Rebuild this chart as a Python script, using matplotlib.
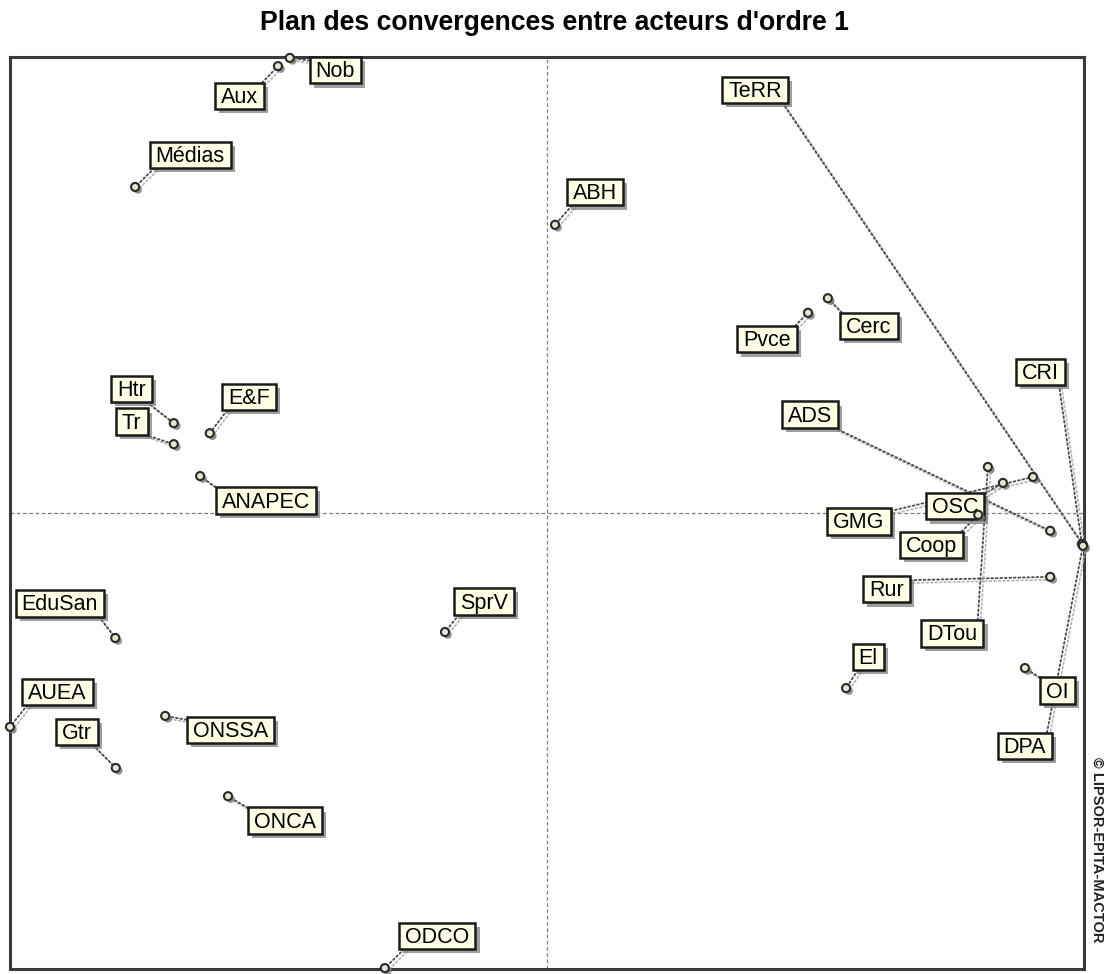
import matplotlib
matplotlib.use("Agg")
import matplotlib.pyplot as plt
import matplotlib.patheffects as pe
from matplotlib.path import Path
import numpy as np

# ---------------- data (positions on the convergence plane) ----------------
actors = ["Nob", "Aux", "Médias", "ABH", "TeRR", "Pvce", "Cerc", "CRI", "ADS",
          "GMG", "OSC", "Coop", "Rur", "DTou", "OI", "DPA", "El", "SprV",
          "EduSan", "AUEA", "Gtr", "ONSSA", "ONCA", "ODCO", "Htr", "Tr",
          "E&F", "ANAPEC"]
x_vals = [-0.479, -0.501, -0.767, 0.015, 0.998, 0.486, 0.523, 0.996, 0.937,
          0.905, 0.849, 0.803, 0.937, 0.821, 0.890, 0.998, 0.557, -0.190,
          -0.804, -1.000, -0.803, -0.711, -0.594, -0.302, -0.695, -0.695,
          -0.628, -0.646]
y_vals = [0.998, 0.980, 0.715, 0.632, -0.070, 0.439, 0.471, -0.068, -0.039,
          0.079, 0.066, -0.004, -0.140, 0.101, -0.340, -0.072, -0.384, -0.261,
          -0.274, -0.469, -0.559, -0.445, -0.621, -0.998, 0.197, 0.151,
          0.175, 0.081]

title = "Plan des convergences entre acteurs d'ordre 1"
credit = "© LIPSOR-EPITA-MACTOR"

# ---------------- layout: label offsets from their point (pixels) ----------------
label_offsets = {
    "Nob": (45.5, -14), "Aux": (-38.5, -31.5), "Médias": (55, 30.5),
    "ABH": (40, 31), "TeRR": (-328, 453.5), "Pvce": (-41, -28),
    "Cerc": (41, -29.5), "CRI": (-41.5, 170.5), "ADS": (-240, 114.5),
    "GMG": (-174, -46), "OSC": (-48, -25), "Coop": (-46.5, -31.5),
    "Rur": (-163.5, -14), "DTou": (-35.5, -168), "OI": (32.5, -24),
    "DPA": (-58, -201.5), "El": (22, 29.5), "SprV": (39, 29),
    "EduSan": (-55.5, 33), "AUEA": (47.5, 33.5), "Gtr": (-39, 34.5),
    "ONSSA": (65, -15.5), "ONCA": (57, -26), "ODCO": (52.5, 30.5),
    "Htr": (-42.5, 32.5), "Tr": (-42, 21), "E&F": (39, 34.5),
    "ANAPEC": (66, -26),
}

FONT = "Liberation Sans"
LABEL_SIZE = 15.5


def label_box(x0, y0, width, height, mutation_size):
    px = 0.28 * mutation_size
    py_top = 0.20 * mutation_size
    py_bot = 0.05 * mutation_size
    x1, y1 = x0 + width + px, y0 + height + py_top
    x0, y0 = x0 - px, y0 - py_bot
    return Path([(x0, y0), (x1, y0), (x1, y1), (x0, y1), (x0, y0)],
                [Path.MOVETO, Path.LINETO, Path.LINETO, Path.LINETO, Path.CLOSEPOLY])


fig = plt.figure(figsize=(11.05, 9.74), dpi=100)
fig.patch.set_facecolor("white")
ax = fig.add_axes([10 / 1105, 1 - 969 / 974, 1074 / 1105, 912 / 974])
ax.set_xlim(-1, 1)
ax.set_ylim(-1, 1)
ax.set_xticks([])
ax.set_yticks([])
for s in ax.spines.values():
    s.set_linewidth(2.2)
    s.set_color("#3a3a3a")

ax.axhline(0, color="#808080", lw=0.9, ls=(0, (3, 2)), zorder=1)
ax.axvline(0, color="#808080", lw=0.9, ls=(0, (3, 2)), zorder=1)

box_shadow = [pe.SimplePatchShadow(offset=(3, -3), shadow_rgbFace="#7f7f7f", alpha=0.75),
              pe.Normal()]
line_shadow = [pe.SimpleLineShadow(offset=(2, -2), shadow_color="#b0b0b0", alpha=0.9),
               pe.Normal()]

# visible labels
texts = []
for name, xv, yv in zip(actors, x_vals, y_vals):
    dx, dy = label_offsets[name]
    t = ax.annotate(name, xy=(xv, yv), xytext=(dx, dy), textcoords="offset pixels",
                    ha="center", va="center", fontsize=LABEL_SIZE, family=FONT,
                    color="black", zorder=5, annotation_clip=False,
                    bbox=dict(boxstyle=label_box, fc="#FFFFE6", ec="#1a1a1a", lw=1.8))
    t.get_bbox_patch().set_path_effects(box_shadow)
    texts.append(t)

fig.canvas.draw()
renderer = fig.canvas.get_renderer()

# leader lines (drawn underneath the labels)
for t, name, xv, yv in zip(texts, actors, x_vals, y_vals):
    bb = t.get_window_extent(renderer)
    px, py = ax.transData.transform((xv, yv))
    rx = float(np.clip((px - bb.x0) / bb.width, 0, 1))
    ry = float(np.clip((py - bb.y0) / bb.height, 0, 1))
    dx, dy = label_offsets[name]
    a = ax.annotate(name, xy=(xv, yv), xytext=(dx, dy), textcoords="offset pixels",
                    ha="center", va="center", fontsize=LABEL_SIZE, family=FONT,
                    color="none", zorder=3, annotation_clip=False,
                    bbox=dict(boxstyle=label_box, fc="none", ec="none", lw=1.8),
                    arrowprops=dict(arrowstyle="-", color="#4a4a4a", lw=1.3,
                                    linestyle=(0, (1, 1.5)), relpos=(rx, ry),
                                    shrinkA=0, shrinkB=0))
    a.arrow_patch.set_path_effects(line_shadow)

# actor points
sc = ax.scatter(x_vals, y_vals, s=34, facecolor="#E6E6CF", edgecolor="#2a2a2a",
                linewidths=1.5, zorder=7, clip_on=False)
sc.set_path_effects([pe.SimplePatchShadow(offset=(2, -2), shadow_rgbFace="#7a7a7a", alpha=0.8),
                     pe.Normal()])

fig.text(554 / 1105, 1 - 23 / 974, title, ha="center", va="center",
         fontsize=19.2, fontweight="bold", family=FONT, color="black")
fig.text(1097 / 1105, 1 - 850 / 974, credit, ha="center", va="center",
         rotation=270, fontsize=10.5, fontweight="bold", family=FONT, color="#222222")

fig.savefig("out.png", dpi=100, facecolor="white")
